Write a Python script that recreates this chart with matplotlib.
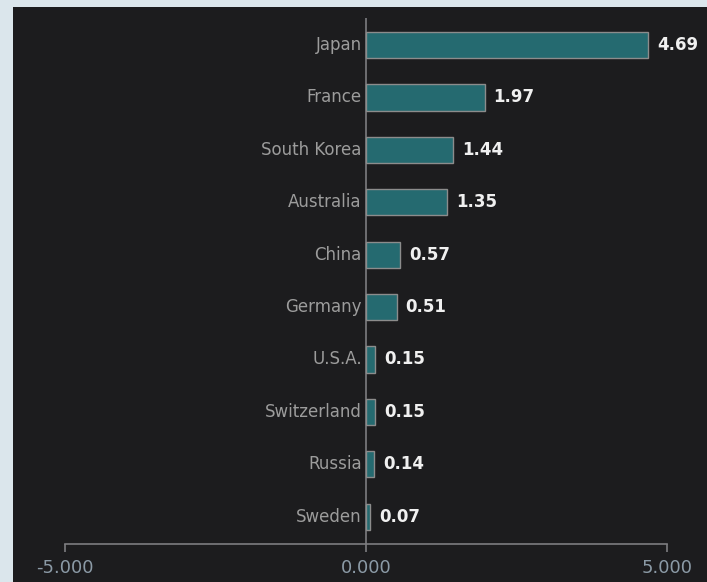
import matplotlib.pyplot as plt
from matplotlib.patches import Rectangle

countries = ["Japan", "France", "South Korea", "Australia", "China",
             "Germany", "U.S.A.", "Switzerland", "Russia", "Sweden"]
values = [4.69, 1.97, 1.44, 1.35, 0.57, 0.51, 0.15, 0.15, 0.14, 0.07]
xticks = [-5, 0, 5]

bg = "#1c1c1e"
plt.rcParams["font.family"] = ["DejaVu Sans"]
plt.rcParams["axes.unicode_minus"] = False

fig = plt.figure(figsize=(7.07, 5.82), dpi=100)
fig.patch.set_facecolor("#dbe6ec")
# dark panel behind the axes
fig.patches.append(Rectangle((13 / 707, 0), 1, 1 - 7 / 582, transform=fig.transFigure,
                             facecolor=bg, edgecolor="none", zorder=-10))

ax = fig.add_axes([65 / 707, 1 - 544 / 582, 602 / 707, 526 / 582])
ax.set_facecolor(bg)
ax.patch.set_alpha(0)

pos = list(range(len(countries)))
ax.barh(pos, values, height=0.5, color="#256a70", edgecolor="#8c8c8c", linewidth=1, zorder=3)
ax.axvline(0, color="#7d7d80", linewidth=1.2, zorder=2)

for i, (name, v) in enumerate(zip(countries, values)):
    ax.annotate(name, (0, i), xytext=(-3, 0), textcoords="offset points",
                ha="right", va="center", color="#9c9c9c", fontsize=12)
    ax.annotate(f"{v:.2f}", (v, i), xytext=(6.5, 0), textcoords="offset points",
                ha="left", va="center", color="#f0f0f0", fontsize=12, fontweight="bold")

ax.set_xlim(-5, 5)
ax.set_ylim(9.52, -0.515)
ax.set_xticks(xticks)
ax.set_xticklabels([f"{t:.3f}" for t in xticks])
ax.set_yticks([])
for s in ["top", "right", "left"]:
    ax.spines[s].set_visible(False)
ax.spines["bottom"].set_color("#7d7d80")
ax.spines["bottom"].set_linewidth(1.2)
ax.tick_params(axis="x", colors="#7d7d80", labelcolor="#8b9aa6", length=6, width=1.2,
               labelsize=13, pad=5)

fig.savefig("out.png", dpi=100, facecolor=fig.get_facecolor())
